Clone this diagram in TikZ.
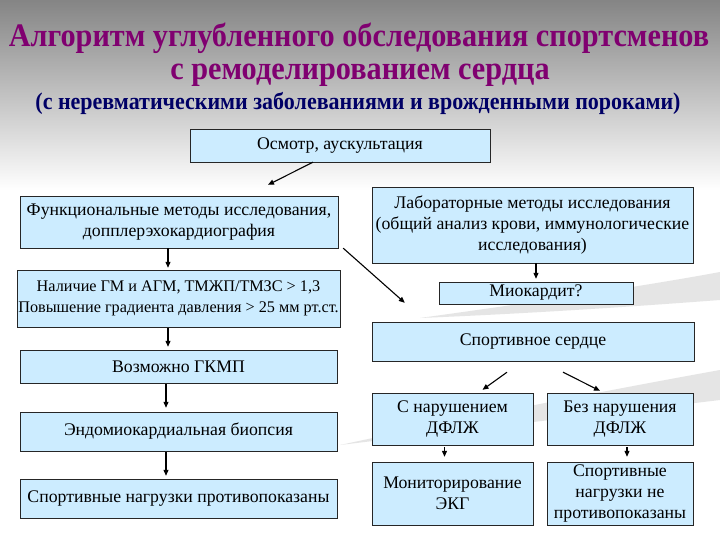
\documentclass[tikz,border=0pt]{standalone}
\usepackage{fontspec}
\setmainfont{Liberation Serif}[Ligatures=TeX]
\newfontfamily\titlefont{Liberation Serif}[FakeStretch=0.92]
\usetikzlibrary{positioning, arrows.meta, calc}
\definecolor{boxblue}{HTML}{CCECFF}
\definecolor{titlepurple}{HTML}{800070}
\definecolor{subnavy}{HTML}{000066}

\begin{document}
\begin{tikzpicture}[x=1bp, y=-1bp,
    every node/.style={font=\fontsize{17.8}{21}\selectfont},
    stage/.style={draw=black!85, fill=boxblue, align=center, inner sep=1bp},
    heading/.style={font=\titlefont\bfseries\fontsize{33}{36}\selectfont,
                    text=titlepurple, anchor=base, inner sep=0pt},
    arr/.style={-{Triangle[length=6bp,width=5bp]}, line width=1.1bp},
  ]
  % background
  \useasboundingbox (0,0) rectangle (720,540);
  \fill[white] (0,0) rectangle (720,540);
  \shade[top color=black!48, bottom color=white] (0,0) rectangle (720,190);
  \fill[black!10] (420,318) .. controls (550,300) and (650,285) .. (720,272)
    -- (720,300) .. controls (640,306) and (540,313) .. (420,318);
  \fill[black!10] (340,445) .. controls (480,415) and (620,388) .. (720,370)
    -- (720,400) .. controls (620,412) and (480,428) .. (340,445);

  % title
  \node[heading] (title1) at (359,47) {Алгоритм углубленного обследования спортсменов};
  \node[heading] (title2) at (360,80) {с ремоделированием сердца};
  \node[heading, font=\titlefont\bfseries\fontsize{24}{26}\selectfont, text=subnavy]
    (title3) at (358,110) {(с неревматическими заболеваниями и врожденными пороками)};

  % left column
  \node[stage, minimum width=300bp, minimum height=33bp] (osm)   at (340,145.5) {Осмотр, аускультация};
  \node[stage, minimum width=318bp, minimum height=52bp] (func)  at (179,222)
    {Функциональные методы исследования,\\допплерэхокардиография};
  \node[stage, minimum width=317bp, minimum height=57bp,
        font=\fontsize{16.3}{21}\selectfont]              (nal)   at (178.5,298.5)
    {Наличие ГМ и АГМ, ТМЖП/ТМЗС > 1,3\\Повышение градиента давления > 25 мм рт.ст.};
  \node[stage, minimum width=317bp, minimum height=33bp] (gkmp)  at (178.5,366.5) {Возможно ГКМП};
  \node[stage, minimum width=317bp, minimum height=39bp] (endo)  at (178.5,431.5) {Эндомиокардиальная биопсия};
  \node[stage, minimum width=317bp, minimum height=39bp] (contra) at (178.5,498.5) {Спортивные нагрузки противопоказаны};

  % right column
  \node[stage, minimum width=321bp, minimum height=76bp] (lab)   at (532.5,225)
    {Лабораторные методы исследования\\(общий анализ крови, иммунологические\\исследования)};
  \node[stage, minimum width=194bp, minimum height=22bp] (miok)  at (536,293) {Миокардит?};
  \node[stage, minimum width=322bp, minimum height=39bp] (sport) at (533,341.5) {Спортивное сердце};
  \node[stage, minimum width=161bp, minimum height=52bp] (withd) at (452.5,419) {С нарушением\\ДФЛЖ};
  \node[stage, minimum width=146bp, minimum height=52bp] (nod)   at (620,419) {Без нарушения\\ДФЛЖ};
  \node[stage, minimum width=161bp, minimum height=63bp] (ekg)   at (452.5,493.5) {Мониторирование\\ЭКГ};
  \node[stage, minimum width=146bp, minimum height=63bp] (allow) at (620,493.5)
    {Спортивные\\нагрузки не\\противопоказаны};

  % arrows
  \draw[arr] ([xshift=-27bp]osm.south) -- ([xshift=89bp,yshift=11bp]func.north);
  \draw[arr] ([xshift=5bp]func.south east) -- ([xshift=33bp,yshift=19bp]sport.north west);
  \draw[arr, shorten >=2bp] ([xshift=-11bp]func.south) -- ([xshift=-10.5bp]nal.north);
  \draw[arr, shorten <=1bp, shorten >=3bp] ([xshift=-10.5bp]nal.south) -- ([xshift=-10.5bp]gkmp.north);
  \draw[arr, shorten <=1bp, shorten >=4bp] ([xshift=-12.5bp]gkmp.south) -- ([xshift=-12.5bp]endo.north);
  \draw[arr, shorten <=1bp, shorten >=3bp] ([xshift=-12.5bp]endo.south) -- ([xshift=-12.5bp]contra.north);
  \draw[arr, shorten >=3bp] (lab.south -| miok.north) -- (miok.north);
  \draw[arr] ([xshift=-26bp,yshift=-11bp]sport.south) -- ([xshift=30bp,yshift=3bp]withd.north);
  \draw[arr] ([xshift=30bp,yshift=-11bp]sport.south) -- ([xshift=-20bp,yshift=2bp]nod.north);
  \draw[arr, shorten <=2bp, shorten >=5bp] ([xshift=-8bp]withd.south) -- ([xshift=-8bp]ekg.north);
  \draw[arr, shorten <=2bp, shorten >=5bp] ([xshift=7bp]nod.south) -- ([xshift=7bp]allow.north);
\end{tikzpicture}
\end{document}
